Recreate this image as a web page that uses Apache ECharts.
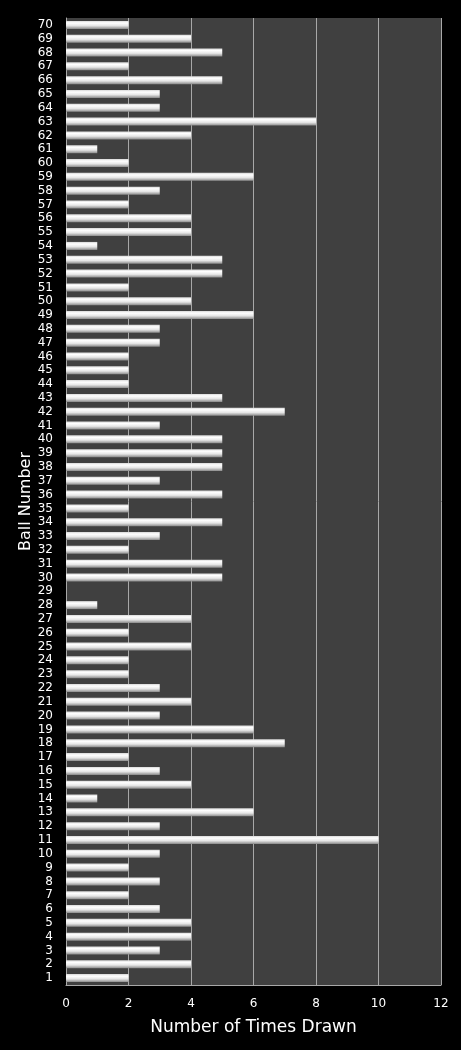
<!DOCTYPE html>
<html>
<head>
<meta charset="utf-8">
<script src="https://cdn.jsdelivr.net/npm/echarts@6/dist/echarts.min.js"></script>
<style>
  html, body { margin: 0; padding: 0; background: #000; }
  #chart { width: 461px; height: 1050px; }
</style>
</head>
<body>
<div id="chart"></div>
<script>
// ball numbers 1..70 (bottom to top)
var balls = [];
for (var i = 1; i <= 70; i++) balls.push(String(i));

// times drawn, ball 1 first
var timesDrawn = [
  2, 4, 3, 4, 4, 3, 2, 3, 2, 3,     // 1-10
  10, 3, 6, 1, 4, 3, 2, 7, 6, 3,    // 11-20
  4, 3, 2, 2, 4, 2, 4, 1, 0, 5,     // 21-30
  5, 2, 3, 5, 2, 5, 3, 5, 5, 5,     // 31-40
  3, 7, 5, 2, 2, 2, 3, 3, 6, 4,     // 41-50
  2, 5, 5, 1, 4, 4, 2, 3, 6, 2,     // 51-60
  1, 4, 8, 3, 3, 5, 2, 5, 4, 2      // 61-70
];

var xTicks = [0, 2, 4, 6, 8, 10, 12];

var myChart = echarts.init(document.getElementById('chart'));
var option = {
    backgroundColor: '#000000',
    animation: false,
    textStyle: { fontFamily: 'DejaVu Sans' },
    grid: {
        left: 66,
        right: 20,
        top: 18,
        bottom: 65,
        show: true,
        backgroundColor: '#404040',
        borderWidth: 0
    },
    xAxis: {
        type: 'value',
        min: xTicks[0],
        max: xTicks[xTicks.length - 1],
        interval: 2,
        name: 'Number of Times Drawn',
        nameLocation: 'middle',
        nameGap: 34,
        nameTextStyle: { color: '#ffffff', fontSize: 17, fontFamily: 'DejaVu Sans' },
        axisLine: { show: true, lineStyle: { color: '#a8a8a8', width: 1 } },
        axisTick: { show: false },
        axisLabel: { color: '#ffffff', fontSize: 12, margin: 13 },
        splitLine: { show: true, lineStyle: { color: '#a8a8a8', width: 1 } }
    },
    yAxis: {
        type: 'category',
        data: balls,
        name: 'Ball Number',
        nameLocation: 'middle',
        nameGap: 32,
        nameMoveOverlap: false,
        nameTextStyle: { color: '#ffffff', fontSize: 16, fontFamily: 'DejaVu Sans' },
        axisLine: { show: true, lineStyle: { color: '#a8a8a8', width: 1 } },
        axisTick: { show: false },
        axisLabel: { color: '#ffffff', fontSize: 12, interval: 0, margin: 13 },
        splitLine: { show: false }
    },
    series: [
        {
            name: 'Times Drawn',
            type: 'bar',
            data: timesDrawn,
            barWidth: 8,
            itemStyle: {
                color: new echarts.graphic.LinearGradient(0, 0, 0, 1, [
                    { offset: 0, color: '#d8d8d8' },
                    { offset: 0.25, color: '#ffffff' },
                    { offset: 0.6, color: '#e6e6e6' },
                    { offset: 1, color: '#8a8a8a' }
                ])
            }
        }
    ]
};
myChart.setOption(option);
</script>
</body>
</html>
